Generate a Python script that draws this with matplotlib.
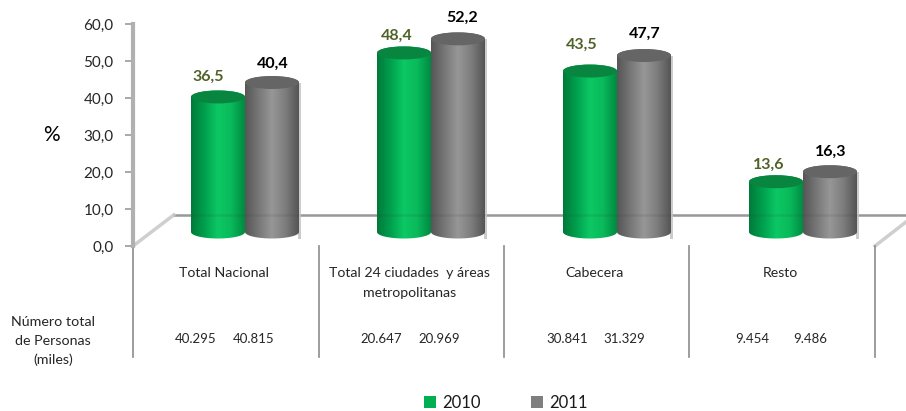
import matplotlib
matplotlib.use('Agg')
import matplotlib.pyplot as plt
import numpy as np
from matplotlib.colors import LinearSegmentedColormap
from matplotlib.patches import Ellipse, Polygon, Patch

plt.rcParams['font.family'] = ['Lato', 'DejaVu Sans']

categories = ['Total Nacional', 'Total 24 ciudades  y áreas\nmetropolitanas', 'Cabecera', 'Resto']
values_2010 = [36.5, 48.4, 43.5, 13.6]
values_2011 = [40.4, 52.2, 47.7, 16.3]
personas_2010 = ['40.295', '20.647', '30.841', '9.454']
personas_2011 = ['40.815', '20.969', '31.329', '9.486']
y_ticks = [0, 10, 20, 30, 40, 50, 60]

W, H = 906, 411
LEFT, RIGHT, TOP, BOTTOM = 133, 875, 24, 246
PX = 4 / (RIGHT - LEFT)          # categorias por pixel
PY = 60 / (BOTTOM - TOP)         # % por pixel

fig = plt.figure(figsize=(W / 100, H / 100), dpi=100)
ax = fig.add_axes([LEFT / W, 1 - BOTTOM / H, (RIGHT - LEFT) / W, (BOTTOM - TOP) / H])
ax.set_xlim(0, 4)
ax.set_ylim(0, 60)
for s in ['top', 'right', 'bottom']:
    ax.spines[s].set_visible(False)
ax.spines['left'].set_color('#b0b0b0')
ax.spines['left'].set_linewidth(3)
ax.set_yticks(y_ticks)
ax.set_yticklabels([f'{v:.1f}'.replace('.', ',') for v in y_ticks], fontsize=11, color='#262626')
ax.tick_params(axis='y', length=6, width=1.2, color='#999999', pad=8)
ax.set_xticks([])

# piso 3D y lineas de separacion
floor = 8.4
ax.plot([0.22, 4 + 31 * PX], [floor, floor], color='#a6a6a6', lw=1.8, clip_on=False, zorder=1)
ax.plot([0, 0.22], [0, floor], color='#cfcfcf', lw=2.5, clip_on=False, zorder=1)
ax.plot([4, 4 + 31 * PX], [0, 6.5], color='#cfcfcf', lw=2.5, clip_on=False, zorder=1)
for i in range(5):
    ax.plot([i, i], [0, -111 * PY], color='#8c8c8c', lw=1.2, clip_on=False, zorder=1)

green_cmap = LinearSegmentedColormap.from_list('g', ['#007a3a', '#00a04e', '#0cc864', '#09b95a', '#008a42'])
gray_cmap = LinearSegmentedColormap.from_list('k', ['#565656', '#777777', '#979797', '#7d7d7d', '#555555'])

bar_w = 54 * PX
base = 14 * PY
ell_h = 13 * PY

# ajuste a mano de las etiquetas, en pixeles (dx, altura sobre la barra)
nudge_2010 = [(-10, 20), (-7, 17), (-8, 26), (-7, 17)]
nudge_2011 = [(1, 18.5), (4, 21), (1, 21.5), (1, 20)]


def cylinder(x0, value, cmap, top_color, z):
    t = np.linspace(0, np.pi, 40)
    cx = x0 + bar_w / 2
    y0 = base
    y1 = base + value
    top_arc = np.column_stack([cx + bar_w / 2 * np.cos(t), y1 + ell_h / 2 * np.sin(t)])
    bot_arc = np.column_stack([cx - bar_w / 2 * np.cos(t), y0 - ell_h / 2 * np.sin(t)])
    outline = Polygon(np.vstack([top_arc, bot_arc]), closed=True, transform=ax.transData,
                      facecolor='none', edgecolor='none')
    ax.add_patch(outline)
    im = ax.imshow(np.linspace(0, 1, 128).reshape(1, -1), cmap=cmap, aspect='auto',
                   extent=[x0, x0 + bar_w, y0 - ell_h, y1 + ell_h], zorder=z, clip_on=True)
    im.set_clip_path(outline)
    ax.add_patch(Ellipse((cx, y1), bar_w, ell_h, facecolor=top_color, edgecolor='none',
                         zorder=z + 0.1, clip_on=False))


starts = [191, 377, 563, 749]
for i in range(4):
    x_g = (starts[i] - LEFT) * PX
    x_k = x_g + bar_w
    # sombra suave a la derecha de la barra gris
    ax.bar(x_k + bar_w + 0.5 * PX, values_2011[i] + base - 2, width=3 * PX, bottom=2, color='#cccccc',
           zorder=2, clip_on=False)
    cylinder(x_g, values_2010[i], green_cmap, '#08853f', 3)
    cylinder(x_k, values_2011[i], gray_cmap, '#656565', 4)
    ax.text(x_g + bar_w / 2 + nudge_2010[i][0] * PX, values_2010[i] + base + nudge_2010[i][1] * PY,
            f'{values_2010[i]:.1f}'.replace('.', ','),
            ha='center', va='center', fontsize=11.5, fontweight='bold', color='#4f6228', clip_on=False, zorder=6)
    ax.text(x_k + bar_w / 2 + nudge_2011[i][0] * PX, values_2011[i] + base + nudge_2011[i][1] * PY,
            f'{values_2011[i]:.1f}'.replace('.', ','),
            ha='center', va='center', fontsize=11.5, fontweight='bold', color='black', clip_on=False, zorder=6)
    ax.text(i + 0.49, -(267 - BOTTOM) * PY, categories[i], ha='center', va='top', fontsize=10.2,
            color='#262626', linespacing=1.75, clip_on=False)
    ax.text(i + 0.34, -(339 - BOTTOM) * PY, personas_2010[i], ha='center', va='center', fontsize=9.5,
            color='#262626', clip_on=False)
    ax.text(i + 0.65, -(339 - BOTTOM) * PY, personas_2011[i], ha='center', va='center', fontsize=9.5,
            color='#262626', clip_on=False)

# la linea del piso se transparenta un poco sobre las barras
ax.plot([0.22, 4 + 31 * PX], [floor, floor], color='#404040', lw=1.8, alpha=0.12, clip_on=False, zorder=5)

ax.set_xlim(0, 4)
ax.set_ylim(0, 60)

fig.text(53 / W, 1 - 341 / H, 'Número total\nde Personas\n(miles)', ha='center', va='center', fontsize=10.3,
         color='#262626', linespacing=1.65)
fig.text(51 / W, 1 - 135 / H, '%', ha='center', va='center', fontsize=15, color='black')

handles = [Patch(facecolor='#00b050', label='2010'), Patch(facecolor='#7f7f7f', label='2011')]
fig.legend(handles=handles, loc='center', bbox_to_anchor=(506 / W, 1 - 403 / H), ncols=2, frameon=False,
           fontsize=12, handlelength=0.7, handleheight=0.7, handletextpad=0.4, columnspacing=3.0,
           labelcolor='#1a1a1a')

fig.savefig('out.png', dpi=100)
